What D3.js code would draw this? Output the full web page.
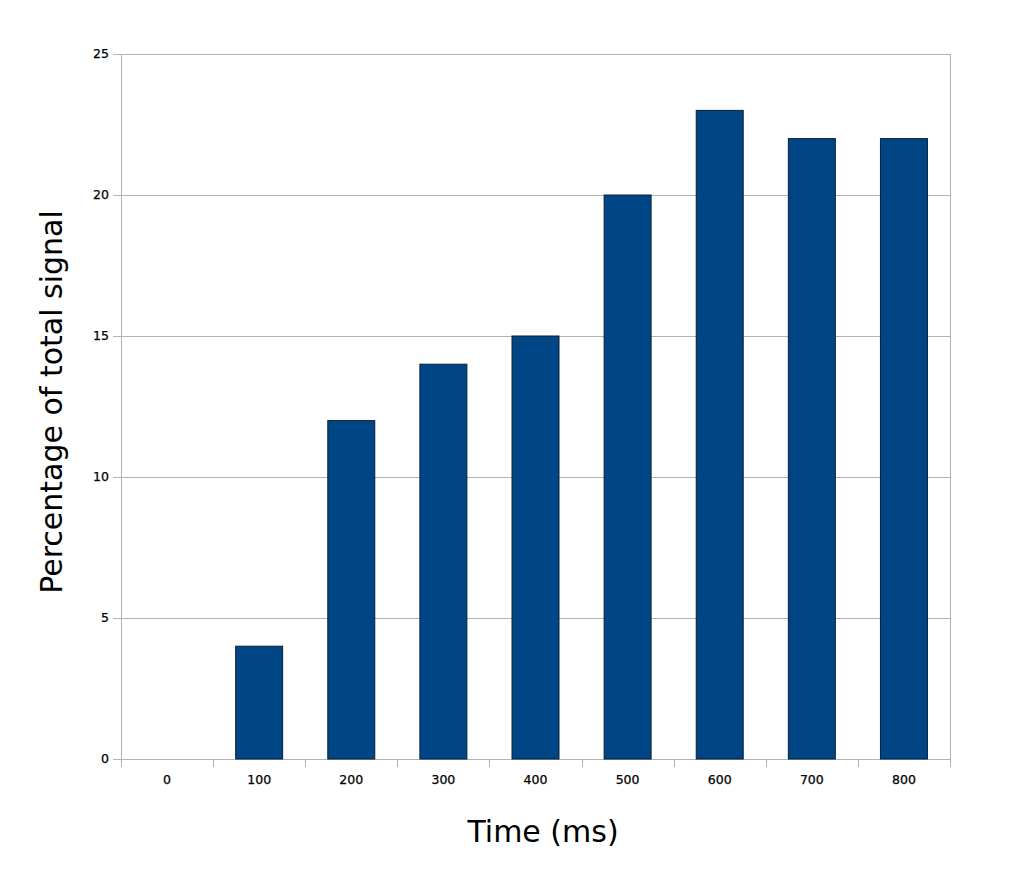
<!DOCTYPE html>
<html>
<head>
<meta charset="utf-8">
<script src="https://cdn.jsdelivr.net/npm/d3@7"></script>
<style>
  body { margin: 0; background: #fff; }
  text { font-family: "DejaVu Sans", sans-serif; }
</style>
</head>
<body>
<svg id="chart" width="1016" height="878"></svg>
<script>
const times = ['0', '100', '200', '300', '400', '500', '600', '700', '800']
const percent = [0, 4, 12, 14, 15, 20, 23, 22, 22]
const yTicks = [0, 5, 10, 15, 20, 25]

const margin = {left: 121, right: 66, top: 54, bottom: 119}
const W = 1016, H = 878
const svg = d3.select('#chart')

const x = d3.scaleBand().domain(times).range([margin.left, W - margin.right]).padding(0)
const y = d3.scaleLinear().domain([0, 25]).range([H - margin.bottom, margin.top])
const barW = x.bandwidth() * 0.51

// grid
svg.append('g')
  .selectAll('line')
  .data(yTicks)
  .join('line')
    .attr('x1', margin.left - 8)
    .attr('x2', W - margin.right)
    .attr('y1', d => Math.round(y(d)) + 0.5)
    .attr('y2', d => Math.round(y(d)) + 0.5)
    .attr('stroke', '#b3b3b3')

// right border
svg.append('line')
  .attr('x1', W - margin.right + 0.5).attr('x2', W - margin.right + 0.5)
  .attr('y1', y(25)).attr('y2', y(0))
  .attr('stroke', '#b3b3b3')

// left axis line
svg.append('line')
  .attr('x1', margin.left + 0.5).attr('x2', margin.left + 0.5)
  .attr('y1', y(25)).attr('y2', y(0) + 8)
  .attr('stroke', '#b3b3b3')

// x ticks at band boundaries
svg.append('g')
  .selectAll('line')
  .data(times.slice(1).concat(['end']))
  .join('line')
    .attr('x1', d => Math.round(d === 'end' ? W - margin.right : x(d)) + 0.5)
    .attr('x2', d => Math.round(d === 'end' ? W - margin.right : x(d)) + 0.5)
    .attr('y1', y(0))
    .attr('y2', y(0) + 8)
    .attr('stroke', '#b3b3b3')

// bars
svg.append('g')
  .selectAll('rect')
  .data(percent)
  .join('rect')
    .attr('x', (d, i) => x(times[i]) + (x.bandwidth() - barW) / 2)
    .attr('y', d => y(d))
    .attr('width', barW)
    .attr('height', d => y(0) - y(d))
    .attr('fill', '#004586')
    .attr('stroke', '#0a1f36')
    .attr('stroke-width', 1)
    .attr('display', d => d > 0 ? null : 'none')

// y tick labels
svg.append('g')
  .selectAll('text')
  .data(yTicks)
  .join('text')
    .attr('x', margin.left - 12)
    .attr('y', d => y(d))
    .attr('dy', '0.35em')
    .attr('text-anchor', 'end')
    .attr('font-size', 12.5)
    .attr('stroke', '#000')
    .attr('stroke-width', 0.25)
    .text(d => d)

// x tick labels
svg.append('g')
  .selectAll('text')
  .data(times)
  .join('text')
    .attr('x', d => x(d) + x.bandwidth() / 2)
    .attr('y', y(0) + 25)
    .attr('text-anchor', 'middle')
    .attr('font-size', 12.5)
    .attr('stroke', '#000')
    .attr('stroke-width', 0.25)
    .text(d => d)

// axis titles
svg.append('text')
  .attr('x', 543)
  .attr('y', 842)
  .attr('text-anchor', 'middle')
  .attr('font-size', 30)
  .text('Time (ms)')

svg.append('text')
  .attr('transform', 'translate(62,402) rotate(-90)')
  .attr('text-anchor', 'middle')
  .attr('font-size', 30)
  .text('Percentage of total signal')
</script>
</body>
</html>
